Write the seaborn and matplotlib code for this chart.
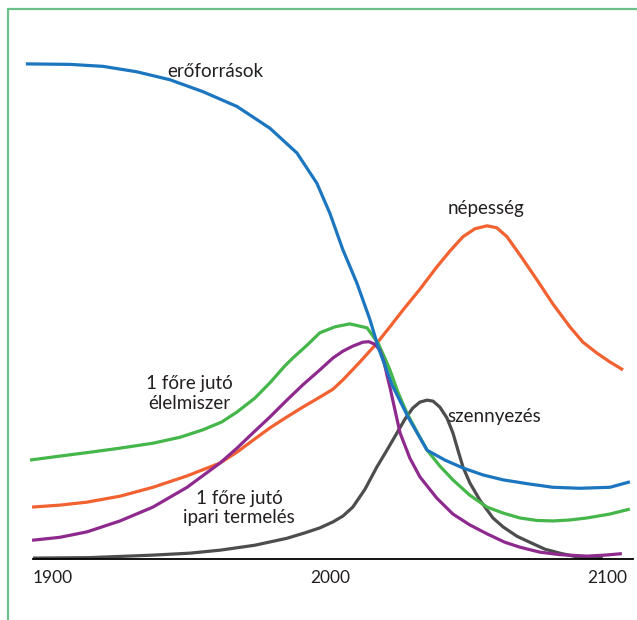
import numpy as np
import pandas as pd
import matplotlib
matplotlib.use("Agg")
import matplotlib.pyplot as plt
from matplotlib.lines import Line2D
import seaborn as sns

# --- adatok (leolvasva az eredeti ábráról, tetszőleges egység 0..100) ---
eroforrasok_ev = [1897.6, 1912.5, 1923.6, 1935, 1946.1, 1957.2, 1968.7, 1979.8, 1988.9, 1995.6,
                  2000, 2004.4, 2009.1, 2013.5, 2016.2, 2020.9, 2026.3, 2032.7, 2038.7, 2044.8,
                  2051.5, 2058.3, 2066.7, 2075.1, 2084.2, 2094.3, 2101]
eroforrasok = [100, 99.9, 99.5, 98.4, 96.8, 94.4, 91.4, 87.0, 82.0, 75.9,
               69.8, 62.4, 55.7, 48.3, 42.9, 35.2, 28.7, 22.0, 20.0, 18.4,
               17.0, 16.0, 15.2, 14.5, 14.3, 14.5, 15.6]

elelmiszer_ev = [1899, 1909.1, 1918.2, 1929.3, 1940.4, 1949.5, 1957.2, 1963.6, 1968.7, 1974.7,
                 1979.8, 1984.8, 1987.5, 1992.3, 1996.6, 2001.7, 2006.7, 2012.5, 2016.2, 2018.5,
                 2020.2, 2022.9, 2025.9, 2029.3, 2032.7, 2037, 2041.4, 2047.1, 2052.9, 2058.3,
                 2064, 2069.7, 2075.1, 2080.8, 2086.5, 2094.3, 2101]
elelmiszer = [20.0, 20.8, 21.5, 22.4, 23.4, 24.6, 26.1, 27.7, 29.7, 32.5,
              35.6, 39.0, 40.6, 43.2, 45.7, 46.9, 47.5, 46.7, 43.6, 40.6,
              38.2, 33.7, 29.5, 25.7, 22.0, 18.8, 16.0, 12.9, 10.5, 9.3,
              8.3, 7.8, 7.7, 7.9, 8.3, 9.1, 10.1]

nepesseg_ev = [1899.7, 1909.1, 1918.2, 1929.3, 1940.4, 1951.9, 1963, 1968.7, 1974.1, 1979.8,
               1985.5, 1990.9, 1996.6, 2001, 2004.4, 2010.1, 2015.8, 2020.2, 2024.6, 2030.3,
               2036, 2040.4, 2044.8, 2048.8, 2052.9, 2056.2, 2059.6, 2064, 2069.7, 2075.1,
               2080.8, 2085.2, 2089.9, 2094.3, 2098.7]
nepesseg = [10.5, 10.9, 11.5, 12.7, 14.5, 16.8, 19.4, 21.6, 24.0, 26.5,
            28.7, 30.7, 32.7, 34.3, 36.2, 39.8, 43.6, 46.9, 50.3, 54.5,
            59.0, 62.2, 65.1, 66.7, 67.3, 66.9, 65.1, 61.4, 56.4, 51.5,
            46.9, 43.8, 41.6, 39.8, 38.2]

ipari_ev = [1899.7, 1909.1, 1918.2, 1929.3, 1940.4, 1951.9, 1963, 1968.7, 1974.1, 1979.8,
            1985.5, 1990.9, 1996.6, 2001, 2004.4, 2007.7, 2011.1, 2013.1, 2015.1, 2016.8,
            2018.2, 2019.2, 2020.2, 2021.9, 2023.6, 2026.9, 2030.3, 2036, 2041.4, 2047.1,
            2052.9, 2058.9, 2064, 2070.7, 2077.4, 2086.5, 2092.6, 2098.3]
ipari = [3.8, 4.4, 5.5, 7.7, 10.5, 14.5, 19.4, 22.4, 25.5, 28.7,
         32.1, 35.2, 38.2, 40.6, 42.0, 43.0, 43.8, 43.9, 43.4, 42.2,
         39.8, 37.2, 34.7, 30.1, 25.5, 20.4, 16.6, 12.3, 9.1, 6.9,
         5.1, 3.4, 2.4, 1.4, 0.9, 0.6, 0.8, 1.1]

szennyezes_ev = [1900, 1919.2, 1940.4, 1952.9, 1963, 1974.7, 1985.5, 1991.6, 1996.6, 2001,
                 2004.4, 2007.7, 2011.8, 2015.8, 2019.2, 2022.6, 2025.3, 2027.9, 2030.3, 2032.7,
                 2034.7, 2037, 2039.4, 2041.4, 2043.1, 2044.8, 2047.1, 2050.5, 2054.9, 2058.3,
                 2063, 2067.3, 2072.4, 2077.4, 2084.2, 2091.9]
szennyezes = [0.2, 0.3, 0.8, 1.2, 1.8, 2.8, 4.2, 5.3, 6.3, 7.5,
              8.7, 10.5, 14.1, 18.6, 22.0, 25.5, 28.3, 30.5, 31.7, 32.1,
              31.9, 30.7, 28.5, 25.5, 22.0, 18.6, 15.4, 11.9, 8.3, 6.5,
              4.6, 3.4, 2.0, 1.2, 0.3, 0.2]

evek_tick = [1900, 2000, 2100]

szinek = {
    "szennyezés": "#4d4d4f",
    "népesség": "#f26130",
    "élelmiszer": "#45b649",
    "ipari termelés": "#8e2a8e",
    "erőforrások": "#1b75bf",
}

# hosszú formátumú tábla a seabornnak
sorok = [
    ("szennyezés", szennyezes_ev, szennyezes),
    ("népesség", nepesseg_ev, nepesseg),
    ("élelmiszer", elelmiszer_ev, elelmiszer),
    ("ipari termelés", ipari_ev, ipari),
    ("erőforrások", eroforrasok_ev, eroforrasok),
]
df = pd.concat([pd.DataFrame({"ev": x, "ertek": y, "sor": nev}) for nev, x, y in sorok],
               ignore_index=True)

sns.set_style("white")
plt.rcParams["font.family"] = ["Lato", "DejaVu Sans"]
szoveg_szin = "#231f20"

fig = plt.figure(figsize=(6.37, 6.2), dpi=100)
ax = fig.add_axes([0, 0, 1, 1])

sns.lineplot(data=df, x="ev", y="ertek", hue="sor", palette=szinek, sort=False,
             estimator=None, legend=False, linewidth=2.3, ax=ax,
             solid_joinstyle="round", solid_capstyle="butt")

ax.set_xlim(1888.9, 2103.4)
ax.set_ylim(-12.3, 112.9)

for s in ["top", "right", "left"]:
    ax.spines[s].set_visible(False)
ax.spines["bottom"].set_position(("data", 0))
ax.spines["bottom"].set_bounds(1900, 2102)
ax.spines["bottom"].set_color("black")
ax.spines["bottom"].set_linewidth(1.3)
ax.set_yticks([])
ax.set_xticks(evek_tick)
ax.set_xticklabels([str(e) for e in evek_tick])
ax.tick_params(axis="x", length=0, pad=8, labelsize=12.5, labelcolor=szoveg_szin)
for lab, ha in zip(ax.get_xticklabels(), ["left", "center", "right"]):
    lab.set_ha(ha)
ax.set_xlabel("")
ax.set_ylabel("")

# feliratok
kw = dict(fontsize=13.5, color=szoveg_szin, va="center")
ax.text(1945.3, 98.4, "erőforrások", ha="left", **kw)
ax.text(2039.7, 70.7, "népesség", ha="left", **kw)
ax.text(1952.7, 33.5, "1 főre jutó\nélelmiszer", ha="center", linespacing=1.2, **kw)
ax.text(1969.5, 10.3, "1 főre jutó\nipari termelés", ha="center", linespacing=1.2, **kw)
ax.text(2039.7, 28.7, "szennyezés", ha="left", **kw)

# zöld keret (bal és felső oldal)
keret = "#6cc08a"
fig.add_artist(Line2D([7.5 / 637, 7.5 / 637], [0, 1 - 8.5 / 620], color=keret, lw=1.6,
                      transform=fig.transFigure))
fig.add_artist(Line2D([7.5 / 637, 1], [1 - 8.5 / 620, 1 - 8.5 / 620], color=keret, lw=1.6,
                      transform=fig.transFigure))

fig.savefig("out.png", dpi=100, facecolor="white")
